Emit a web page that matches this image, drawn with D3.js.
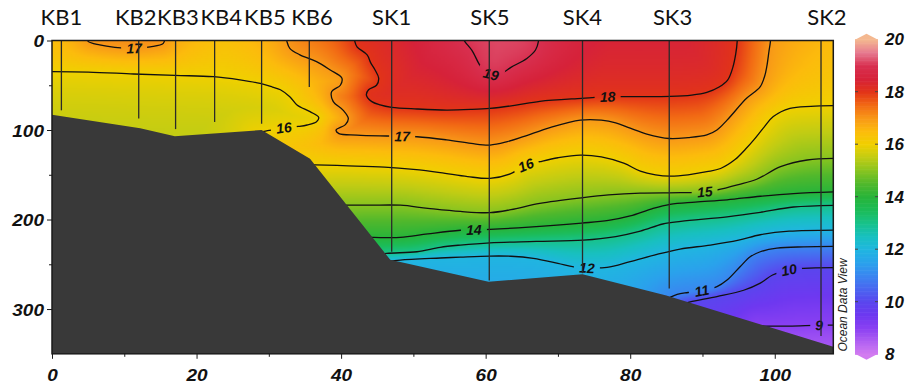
<!DOCTYPE html>
<html>
<head>
<meta charset="utf-8">
<script src="https://cdn.jsdelivr.net/npm/d3@7"></script>
<style>
  html, body { margin: 0; padding: 0; background: #fff; }
  #chart { position: relative; width: 908px; height: 385px; }
  svg { position: absolute; left: 0; top: 0; }
</style>
</head>
<body>
<div id="chart"></div>
<script>
// ---------------- section data: distance (km) / depth (m) / temperature (°C) ----------------
const stationNames = ["KB1", "KB2", "KB3", "KB4", "KB5", "KB6", "SK1", "SK5", "SK4", "SK3", "SK2"];
const stationKm    = [1.3, 12.0, 17.1, 22.5, 29.0, 35.6, 47.0, 60.5, 73.4, 85.4, 106.4];
const castDepth    = [78, 87, 99, 91, 93, 52, 236, 268, 260, 277, 330];

// sea floor along the section [km, depth]
const bathymetry = [[0, 83], [12.2, 98], [17, 107], [29, 100], [35.7, 132], [46.8, 245],
                    [60.4, 269.5], [73.4, 261], [85, 285], [108.1, 342]];

// isotherms [km, depth]
const iso19  = [[56.8,-3],[57.2,2],[58.1,11],[59.5,31],[60.9,38],[62.3,36],[63.5,30],[65.7,20],[66.9,10.6],[67.3,1],[67.3,-3]];
const iso18  = [[41.8,-3],[41.9,1],[42.2,7],[43.6,16],[44.1,25],[44.7,33],[45.2,42],[44.9,50],[43.8,55],[43.5,61],
                [44.2,68],[45.4,72],[47,74.7],[50.5,76.5],[54.6,77.7],[58,77],[60.6,75.8],[64,72.5],[67.5,68],[73.3,64.6],
                [77,62.8],[81.4,62.8],[85.5,62.5],[88.5,61],[90.6,58],[92.3,52],[93.5,44],[94.2,30],[94.6,15],[94.8,1],[94.8,-3]];
const iso17  = [[32.4,-3],[32.5,1],[32.9,8.8],[34.3,16],[36.6,23.6],[38.5,33],[40.1,42],[39.9,50],[38.7,57],[38.9,68],
                [40.3,78],[41.0,87],[40.6,94],[39.3,100],[39.7,104],[42.2,105.6],[46.3,106.7],[50.5,107.5],[54.6,111],[58,115],
                [60.6,116.8],[63,113],[65.2,107.5],[69,97],[73.1,89],[76,89],[78,92],[80,98],[82.3,104.5],[85.4,109.5],
                [88,108.5],[90.6,105.5],[92,100],[93.4,89],[96.1,64.6],[97.3,57],[98,51.6],[98.6,40],[98.9,29],[99.2,12],[99.4,1],[99.4,-3]];
const iso17b = [[4.9,-3],[5.0,1],[6.6,5],[8.7,7.6],[11.3,8.7],[13.6,7],[15.4,3.2],[15.6,-3]];
const iso16a = [[-1,34.8],[5,35.3],[11.3,37.4],[17,39],[22.3,40.4],[26,44],[28.8,48],[30.5,52],[31.6,55],[32.9,62.8],
                [33.9,72],[35.7,79.5],[36.9,85.8],[36.6,90.7],[35.3,94.4],[34.1,96],[32.1,97.5],[29.7,101],[28,104]];
const iso16b = [[35.5,139],[36.4,139],[41,140],[46,141.5],[50,144],[53.7,147.5],[57.5,152],[60.6,154],[63.4,149],[65.5,139.5],
                [67.5,135.4],[70,131],[73.1,128],[76,130],[79.1,137],[81.4,146],[83.5,150],[85.5,151.4],[88,150],[90.6,146.6],
                [92.5,143],[94.5,133],[96,121],[97.1,111],[98.5,97],[99.8,85],[102.1,75.8],[105,73.5],[109,72.8]];
const iso15  = [[40,184],[41,184],[44,184],[48.2,184],[52,187.5],[56.5,191],[60.6,192.3],[63.5,189],[67.5,182],[73.5,175.5],
                [77,172.5],[81.4,170.5],[87,170],[90.1,169],[92,167],[95,161],[97.5,155],[100.8,141],[104.5,133.5],[109,131.6]];
const iso14  = [[43.5,220],[44.5,220],[48.2,220],[52,216],[56.5,212],[60.6,211],[66,208.5],[73.3,204],[77,201],[80,196],
                [83,188],[85.5,183],[89,180.5],[93.4,178],[98,174],[102.6,171],[109,169]];
const iso13  = [[44.5,240],[46.3,237.8],[50.5,236],[53.7,231],[56.5,228.5],[60.6,226],[67,224.5],[73.5,223],[78,219],
                [81.4,213],[84.5,205],[87,202],[93.4,197],[98,192],[102.6,186],[109,184]];
const iso12  = [[46.5,247],[48.2,245.3],[53.7,243],[56.5,242],[60.6,240.8],[63.5,241],[66.6,243.4],[70,249],[72.2,253],
                [74.2,254],[76.8,253.4],[80,247],[83.7,239],[86.9,233],[91.1,228.5],[95,223],[98,217],[102,213],[109,211.7]];
const iso11  = [[85.5,287],[86.5,283.5],[88,281.5],[89.9,279.5],[92,275],[93.4,267.6],[95.2,252.7],[96.6,241.6],[98,236],
                [100.3,232],[104,230.5],[109,230]];
const iso10  = [[87.5,294],[88.3,292],[92,286],[95.7,279],[98,271],[99.7,262],[101.9,256.4],[104,254.5],[109,253.8]];
const iso9   = [[97.5,318],[98.5,319],[102,319],[106.3,318],[109,318]];

const isoLevels = [9, 10, 11, 12, 13, 14, 15, 16, 17, 18, 19];
const isoPieces = [[iso9], [iso10], [iso11], [iso12], [iso13], [iso14], [iso15], [iso16a, iso16b], [iso17, iso17b], [iso18], [iso19]];

// where each isotherm carries its value label
const contourLabels = [
  {level: 17, km: 11.3, depth: 8.7}, {level: 16, km: 32.1, depth: 97.5}, {level: 17, km: 48.4, depth: 106.7},
  {level: 19, km: 60.9, depth: 38.5}, {level: 18, km: 77, depth: 62.8}, {level: 16, km: 65.5, depth: 139.5},
  {level: 15, km: 90.1, depth: 169}, {level: 14, km: 58.3, depth: 211.7}, {level: 12, km: 74.2, depth: 254},
  {level: 11, km: 89.9, depth: 279.5}, {level: 10, km: 101.9, depth: 256.4}, {level: 9, km: 106.3, depth: 318}
];

// colour palette (temperature stops)
const paletteTemps  = [8, 8.5, 9, 9.5, 10, 10.5, 11, 11.5, 12, 12.5, 13, 13.5, 14, 14.5, 15, 15.5, 16, 16.5, 17, 17.5, 18, 18.5, 19, 19.5, 20];
const paletteColors = ["#d27cf0", "#b060f2", "#8a40f2", "#6e38f0", "#5a46ee", "#4a66f0", "#3a86f0", "#2aa2ec", "#20b6e0",
                       "#18c0c0", "#18c28a", "#1cbc58", "#28b43a", "#50b82c", "#88c420", "#c0cc14", "#f0d000", "#fcbc0c",
                       "#f89818", "#f26a14", "#e23418", "#d6223a", "#d83050", "#e67a90", "#f4b890"];

const xTicks = [0, 20, 40, 60, 80, 100];
const xMinorTicks = [10, 30, 50, 70, 90];
const yTicks = [0, 100, 200, 300];
const yMinorTicks = [50, 150, 250];
const colorbarTicks = [8, 10, 12, 14, 16, 18, 20];

// station name placement tweaks (px)
const nameShift = [0, -3, 2.3, 6.7, 3.3, 2.7, 0, 0.7, 0, 3.3, 6];

// ---------------- layout ----------------
const width = 908, height = 385;
const plot = {left: 52, right: 833.3, top: 40.5, bottom: 353.8};
const x = d3.scaleLinear().domain([0, 108.1]).range([plot.left, plot.right]);
const y = d3.scaleLinear().domain([0, 350]).range([plot.top, plot.bottom]);
const color = d3.scaleLinear().domain(paletteTemps).range(paletteColors).interpolate(d3.interpolateRgb).clamp(true);
const numFont = "'Liberation Sans', Arial, sans-serif";

const svg = d3.select("#chart").append("svg").attr("width", width).attr("height", height);
const defs = svg.append("defs");
defs.append("clipPath").attr("id", "plotClip").append("rect")
  .attr("x", plot.left).attr("y", plot.top)
  .attr("width", plot.right - plot.left).attr("height", plot.bottom - plot.top);

const lineGen = d3.line().x(d => x(d[0])).y(d => y(d[1])).curve(d3.curveCatmullRom.alpha(0.5));

// resample a smoothed isotherm into a dense pixel polyline
function densify(pts) {
  const p = document.createElementNS("http://www.w3.org/2000/svg", "path");
  p.setAttribute("d", lineGen(pts));
  svg.node().appendChild(p);
  const L = p.getTotalLength();
  const n = Math.max(2, Math.ceil(L / 3));
  const out = [];
  for (let i = 0; i <= n; i++) { const q = p.getPointAtLength(L * i / n); out.push([q.x, q.y]); }
  p.remove();
  return out;
}

const dense = isoPieces.map(pieces => pieces.map(densify));

// warm-side polygons of each isotherm
const warmPolys = isoPieces.map((pieces, k) => {
  if (pieces[0][0][1] < 0) return dense[k];
  const ring = [].concat(...dense[k]);
  ring.push([x(109), y(-5)], [x(-1), y(-5)], [x(-1), y(pieces[0][0][1])]);
  return [ring];
});

function inside(poly, px, py) {
  let c = false;
  for (let i = 0, j = poly.length - 1; i < poly.length; j = i++) {
    const xi = poly[i][0], yi = poly[i][1], xj = poly[j][0], yj = poly[j][1];
    if (((yi > py) !== (yj > py)) && (px < (xj - xi) * (py - yi) / (yj - yi) + xi)) c = !c;
  }
  return c;
}
function distTo(k, px, py) {
  let best = Infinity;
  for (const pts of dense[k]) {
    for (let i = 1; i < pts.length; i++) {
      const ax = pts[i-1][0], ay = pts[i-1][1], bx = pts[i][0], by = pts[i][1];
      const dx = bx - ax, dy = by - ay;
      let t = ((px - ax) * dx + (py - ay) * dy) / (dx * dx + dy * dy || 1);
      t = t < 0 ? 0 : t > 1 ? 1 : t;
      const ex = ax + t * dx - px, ey = ay + t * dy - py;
      const d = ex * ex + ey * ey;
      if (d < best) best = d;
    }
  }
  return Math.sqrt(best);
}

// ---------------- temperature field raster ----------------
const cell = 2, reach = 70;
const gw = Math.ceil((plot.right - plot.left) / cell), gh = Math.ceil((plot.bottom - plot.top) / cell);
const canvas = document.createElement("canvas");
canvas.width = gw; canvas.height = gh;
const ctx = canvas.getContext("2d");
const img = ctx.createImageData(gw, gh);
const seafloor = d3.scaleLinear().domain(bathymetry.map(d => d[0])).range(bathymetry.map(d => d[1]));
const nL = isoLevels.length;
for (let j = 0; j < gh; j++) {
  const py = plot.top + (j + 0.5) * cell;
  const depth = y.invert(py);
  for (let i = 0; i < gw; i++) {
    const px = plot.left + (i + 0.5) * cell;
    if (depth > seafloor(x.invert(px)) + 5) continue;
    let band = -1;
    for (let k = nL - 1; k >= 0; k--) {
      if (warmPolys[k].some(pg => inside(pg, px, py))) { band = k; break; }
    }
    let t;
    if (band < 0) {
      t = isoLevels[0] - 0.6 * (1 - Math.exp(-distTo(0, px, py) / 25));
    } else if (band === nL - 1) {
      t = isoLevels[band] + 0.2 * (1 - Math.exp(-distTo(band, px, py) / 18));
    } else {
      const d0 = Math.min(reach, distTo(band, px, py)), d1 = Math.min(reach, distTo(band + 1, px, py));
      t = isoLevels[band] + (isoLevels[band + 1] - isoLevels[band]) * d0 / (d0 + d1 + 1e-6);
    }
    const c = d3.rgb(color(t));
    const o = (j * gw + i) * 4;
    img.data[o] = c.r; img.data[o + 1] = c.g; img.data[o + 2] = c.b; img.data[o + 3] = 255;
  }
}
ctx.putImageData(img, 0, 0);
svg.append("image")
  .attr("href", canvas.toDataURL())
  .attr("x", plot.left).attr("y", plot.top)
  .attr("width", gw * cell).attr("height", gh * cell)
  .attr("preserveAspectRatio", "none")
  .attr("clip-path", "url(#plotClip)");

// ---------------- isotherm lines with label gaps ----------------
const mask = defs.append("mask").attr("id", "labelGaps").attr("maskUnits", "userSpaceOnUse")
  .attr("x", 0).attr("y", 0).attr("width", width).attr("height", height);
mask.append("rect").attr("width", width).attr("height", height).attr("fill", "white");

const contourG = svg.append("g").attr("clip-path", "url(#plotClip)")
  .append("g").attr("mask", "url(#labelGaps)");
isoPieces.forEach(pieces => pieces.forEach(pts => {
  contourG.append("path").attr("d", lineGen(pts))
    .attr("fill", "none").attr("stroke", "#111").attr("stroke-width", 1.3);
}));

const labelG = svg.append("g")
  .attr("font-family", numFont).attr("font-size", 14).attr("font-weight", "bold").attr("font-style", "italic")
  .attr("fill", "#111");
contourLabels.forEach(lb => {
  const k = isoLevels.indexOf(lb.level);
  const tx = x(lb.km), ty = y(lb.depth);
  let best = null;
  dense[k].forEach(pts => pts.forEach((p, i) => {
    const d = (p[0] - tx) ** 2 + (p[1] - ty) ** 2;
    if (!best || d < best.d) best = {d, pts, i};
  }));
  const pts = best.pts, i = best.i;
  const a = pts[Math.max(0, i - 4)], b = pts[Math.min(pts.length - 1, i + 4)];
  let ang = Math.atan2(b[1] - a[1], b[0] - a[0]) * 180 / Math.PI;
  if (ang > 90) ang -= 180;
  if (ang < -90) ang += 180;
  const [px, py] = pts[i];
  const w = String(lb.level).length * 8.5 + 9;
  mask.append("rect").attr("x", -w / 2).attr("y", -7).attr("width", w).attr("height", 14)
    .attr("transform", `translate(${px},${py}) rotate(${ang})`).attr("fill", "black");
  labelG.append("text").attr("transform", `translate(${px},${py}) rotate(${ang})`)
    .attr("text-anchor", "middle").attr("dy", "0.36em").text(lb.level);
});

// ---------------- station casts ----------------
svg.append("g").selectAll("line").data(stationKm).join("line")
  .attr("x1", d => x(d)).attr("x2", d => x(d))
  .attr("y1", y(0)).attr("y2", (d, i) => y(castDepth[i]))
  .attr("stroke", "#2a2a2a").attr("stroke-width", 1.3);

// ---------------- sea floor ----------------
const floorPts = bathymetry.concat([[108.1, 350], [0, 350]]);
svg.append("path")
  .attr("d", d3.line().x(d => x(d[0])).y(d => y(d[1]))(floorPts) + "Z")
  .attr("fill", "#393939").attr("clip-path", "url(#plotClip)");

// ---------------- frame and axes ----------------
svg.append("rect").attr("x", plot.left).attr("y", plot.top)
  .attr("width", plot.right - plot.left).attr("height", plot.bottom - plot.top)
  .attr("fill", "none").attr("stroke", "#1a1a1a").attr("stroke-width", 1.5);

function styleAxis(g) {
  g.select(".domain").remove();
  g.selectAll(".tick line").attr("stroke", "#1a1a1a").attr("stroke-width", 1);
  g.selectAll("text").attr("font-family", numFont).attr("font-size", 17)
    .attr("font-weight", "bold").attr("font-style", "italic").attr("fill", "#111");
}
svg.append("g").attr("transform", `translate(${plot.left},0)`)
  .call(d3.axisLeft(y).tickValues(yTicks).tickSize(5).tickPadding(3))
  .call(styleAxis)
  .call(g => g.selectAll("text").attr("x", 0).attr("dy", "0.36em")
    .attr("transform", "translate(-8,0) scale(1.12,1)"));
svg.append("g").attr("transform", `translate(${plot.left},0)`)
  .call(d3.axisLeft(y).tickValues(yMinorTicks).tickSize(3).tickFormat(""))
  .call(styleAxis);
svg.append("g").attr("transform", `translate(0,${plot.bottom})`)
  .call(d3.axisBottom(x).tickValues(xTicks).tickSize(5).tickPadding(0))
  .call(styleAxis)
  .call(g => g.selectAll("text").attr("y", 27).attr("dy", 0).attr("transform", "scale(1.12,1)"));
svg.append("g").attr("transform", `translate(0,${plot.bottom})`)
  .call(d3.axisBottom(x).tickValues(xMinorTicks).tickSize(3).tickFormat(""))
  .call(styleAxis);

// ---------------- station names ----------------
svg.append("g").selectAll("text").data(stationNames).join("text")
  .attr("x", (d, i) => x(stationKm[i]) + nameShift[i]).attr("y", 25)
  .attr("text-anchor", "middle")
  .attr("font-family", "Lato, 'Open Sans', sans-serif").attr("font-size", 22)
  .attr("fill", "#111").text(d => d);

// ---------------- colour bar ----------------
const cb = {left: 855, right: 878};
const cbY = d3.scaleLinear().domain([8, 20]).range([354.2, 39.2]);
const cbG = svg.append("g");
const steps = d3.range(8, 20, 0.05);
cbG.selectAll("rect").data(steps).join("rect")
  .attr("x", cb.left).attr("width", cb.right - cb.left)
  .attr("y", d => cbY(d + 0.05)).attr("height", d => cbY(d) - cbY(d + 0.05) + 0.6)
  .attr("fill", d => color(d + 0.025));
const mid = (cb.left + cb.right) / 2;
cbG.append("path").attr("d", `M${cb.left},${cbY(20) + 0.5}L${mid},${cbY(20) - 5.5}L${cb.right},${cbY(20) + 0.5}Z`)
  .attr("fill", color(20));
cbG.append("path").attr("d", `M${cb.left},${cbY(8) - 0.5}L${mid},${cbY(8) + 5.5}L${cb.right},${cbY(8) - 0.5}Z`)
  .attr("fill", color(8));
colorbarTicks.filter(v => v > 8 && v < 20).forEach(v => {
  cbG.append("line").attr("x1", cb.left).attr("x2", cb.left + 3).attr("y1", cbY(v)).attr("y2", cbY(v))
    .attr("stroke", "#444").attr("stroke-width", 1);
  cbG.append("line").attr("x1", cb.right - 3).attr("x2", cb.right).attr("y1", cbY(v)).attr("y2", cbY(v))
    .attr("stroke", "#444").attr("stroke-width", 1);
});
cbG.selectAll("text").data(colorbarTicks).join("text")
  .attr("x", 885).attr("y", d => cbY(d)).attr("dy", "0.36em")
  .attr("font-family", numFont).attr("font-size", 17).attr("font-weight", "bold").attr("font-style", "italic")
  .attr("fill", "#111").text(d => d);

// ---------------- credit ----------------
svg.append("text").attr("transform", "translate(847,305) rotate(-90)")
  .attr("text-anchor", "middle")
  .attr("font-family", numFont).attr("font-size", 12).attr("font-style", "italic")
  .attr("fill", "#222").text("Ocean Data View");
</script>
</body>
</html>
